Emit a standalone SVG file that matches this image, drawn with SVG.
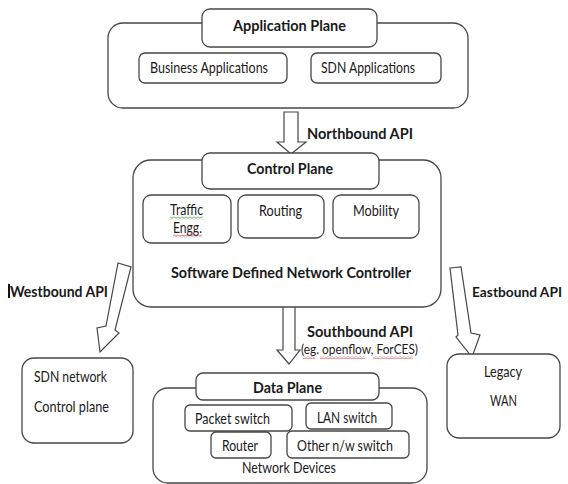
<svg xmlns="http://www.w3.org/2000/svg" width="568" height="484" viewBox="0 0 568 484">
<defs>
<style>
.box{fill:#fff;stroke:#474747;stroke-width:1.3}
.arr{fill:#fff;stroke:#474747;stroke-width:1.2;stroke-linejoin:miter}
text{font-family:"Lato","Liberation Sans",sans-serif;fill:#1a1a1a}
.r{font-size:15px}
.b{font-size:15.5px;font-weight:bold}
.s{font-size:14px}
.e{font-size:14px;font-weight:bold}
</style>
<pattern id="sqR" width="4" height="3" patternUnits="userSpaceOnUse">
<path d="M0,2.3 L2,0.7 L4,2.3" fill="none" stroke="#d23a3a" stroke-width="0.8"/>
</pattern>
<pattern id="sqG" width="4" height="3" patternUnits="userSpaceOnUse">
<path d="M0,2.3 L2,0.7 L4,2.3" fill="none" stroke="#3c9a3c" stroke-width="0.8"/>
</pattern>
</defs>
<rect width="568" height="484" fill="#fff"/>

<g id="connectors">
<path class="arr" d="M284,112 H298 V142 H306 L291,154 L277,142 H284 Z"/>
<path class="arr" d="M283,305 H295 V350 H300 L289,364 L277,350 H283 Z"/>
<path class="arr" d="M118,263 L131,267 L115,330 L119,333 L100,352 L97,328 L106,326 Z"/>
<path class="arr" d="M450,268 L461,267 L471,333 L480,335 L472,357 L456,337 L458,335 Z"/>
</g>

<g id="application-plane">
<rect class="box" x="108" y="23" width="360" height="85" rx="15"/>
<rect class="box" x="202" y="9" width="175" height="38" rx="8"/>
<text class="b" x="233" y="31" textLength="113" lengthAdjust="spacingAndGlyphs">Application Plane</text>
</g>
<g id="business-applications">
<rect class="box" x="139" y="53" width="148" height="30" rx="6"/>
<text class="r" x="150" y="73" textLength="118" lengthAdjust="spacingAndGlyphs">Business Applications</text>
</g>
<g id="sdn-applications">
<rect class="box" x="311" y="53" width="130" height="30" rx="6"/>
<text class="r" x="321" y="73" textLength="94" lengthAdjust="spacingAndGlyphs">SDN Applications</text>
</g>

<g id="northbound-label">
<text class="b" x="307" y="139" textLength="106" lengthAdjust="spacingAndGlyphs">Northbound API</text>
</g>

<g id="control-plane">
<rect class="box" x="133" y="160" width="308" height="147" rx="18"/>
<rect class="box" x="202" y="153" width="177" height="36" rx="8"/>
<text class="b" x="247" y="174" textLength="86" lengthAdjust="spacingAndGlyphs">Control Plane</text>
<text class="b" x="171" y="278" textLength="240" lengthAdjust="spacingAndGlyphs">Software Defined Network Controller</text>
</g>
<g id="traffic-engg">
<rect class="box" x="143" y="195" width="88" height="48" rx="8"/>
<text class="r" x="170" y="215" textLength="33" lengthAdjust="spacingAndGlyphs">Traffic</text>
<text class="r" x="173" y="233" textLength="29" lengthAdjust="spacingAndGlyphs">Engg.</text>
<rect x="170" y="216.5" width="33" height="3" fill="url(#sqG)"/>
<rect x="173" y="234.5" width="29" height="3" fill="url(#sqR)"/>
</g>
<g id="routing">
<rect class="box" x="238" y="195" width="86" height="43" rx="8"/>
<text class="r" x="259" y="216" textLength="43" lengthAdjust="spacingAndGlyphs">Routing</text>
</g>
<g id="mobility">
<rect class="box" x="333" y="195" width="86" height="43" rx="8"/>
<text class="r" x="353" y="216" textLength="46" lengthAdjust="spacingAndGlyphs">Mobility</text>
</g>

<g id="westbound-label">
<rect x="8" y="284" width="2" height="14" fill="#111"/>
<text class="b" x="10" y="297" textLength="98" lengthAdjust="spacingAndGlyphs">Westbound API</text>
</g>
<g id="eastbound-label">
<text class="e" x="472" y="297" textLength="90" lengthAdjust="spacingAndGlyphs">Eastbound API</text>
</g>
<g id="southbound-label">
<text class="b" x="307" y="337" textLength="106" lengthAdjust="spacingAndGlyphs">Southbound API</text>
<text class="s" x="301" y="354" textLength="117" lengthAdjust="spacingAndGlyphs">(eg. openflow, ForCES)</text>
<rect x="303" y="356" width="12" height="3" fill="url(#sqR)"/>
<rect x="320" y="356" width="45" height="3" fill="url(#sqR)"/>
<rect x="373" y="356" width="40" height="3" fill="url(#sqR)"/>
</g>

<g id="sdn-network-control-plane">
<rect class="box" x="22" y="358" width="111" height="85" rx="12"/>
<text class="r" x="34" y="382" textLength="73" lengthAdjust="spacingAndGlyphs">SDN network</text>
<text class="r" x="34" y="412" textLength="75" lengthAdjust="spacingAndGlyphs">Control plane</text>
</g>
<g id="legacy-wan">
<rect class="box" x="447" y="354" width="113" height="84" rx="12"/>
<text class="r" x="484" y="377" textLength="38" lengthAdjust="spacingAndGlyphs">Legacy</text>
<text class="r" x="490" y="406" textLength="27" lengthAdjust="spacingAndGlyphs">WAN</text>
</g>

<g id="data-plane">
<rect class="box" x="153" y="388" width="274" height="95" rx="15"/>
<rect class="box" x="196" y="373" width="183" height="27" rx="7"/>
<text class="b" x="253" y="393" textLength="69" lengthAdjust="spacingAndGlyphs">Data Plane</text>
<text class="r" x="242" y="473" textLength="94" lengthAdjust="spacingAndGlyphs">Network Devices</text>
</g>
<g id="packet-switch">
<rect class="box" x="185" y="405" width="107" height="26" rx="5"/>
<text class="r" x="195" y="424" textLength="75" lengthAdjust="spacingAndGlyphs">Packet switch</text>
</g>
<g id="lan-switch">
<rect class="box" x="306" y="403" width="86" height="26" rx="5"/>
<text class="r" x="317" y="423" textLength="60" lengthAdjust="spacingAndGlyphs">LAN switch</text>
</g>
<g id="router">
<rect class="box" x="211" y="432" width="60" height="26" rx="5"/>
<text class="r" x="222" y="451" textLength="36" lengthAdjust="spacingAndGlyphs">Router</text>
</g>
<g id="other-nw-switch">
<rect class="box" x="287" y="431" width="122" height="27" rx="5"/>
<text class="r" x="297" y="451" textLength="96" lengthAdjust="spacingAndGlyphs">Other n/w switch</text>
</g>
</svg>
